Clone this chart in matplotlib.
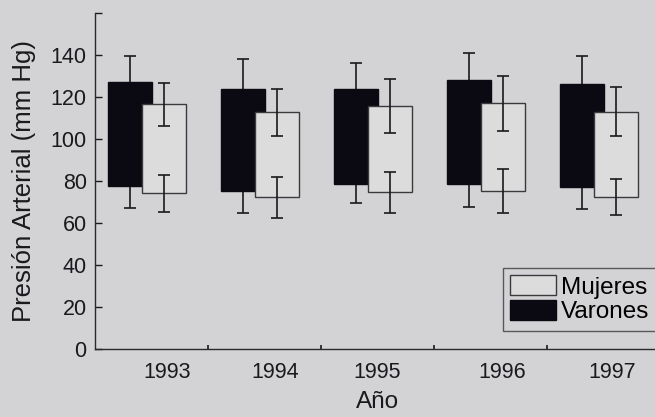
import numpy as np
import matplotlib
matplotlib.use('Agg')
import matplotlib.pyplot as plt
from matplotlib.patches import Patch

# ==========================================
# DATA
# ==========================================
years = ['1993', '1994', '1995', '1996', '1997']

# Varones (men): systolic / diastolic means and SDs
var_sys = [127, 124, 124, 128, 126]
var_sys_sd = [12.7, 13.9, 12.3, 12.9, 13.7]
var_dia = [77.6, 75.4, 78.6, 78.6, 77]
var_dia_sd = [10.6, 10.5, 8.9, 10.8, 10.5]

# Mujeres (women)
muj_sys = [116.5, 112.6, 115.7, 116.9, 113]
muj_sys_sd = [10.3, 11.2, 12.7, 12.9, 11.6]
muj_dia = [74.2, 72.2, 74.7, 75.1, 72.3]
muj_dia_sd = [8.8, 9.6, 9.8, 10.5, 8.5]

# ==========================================
# STYLE
# ==========================================
plt.rcParams['font.family'] = ['Liberation Sans', 'DejaVu Sans']
bg = '#d3d3d5'
ink = '#1a1a1e'

fig = plt.figure(figsize=(6.55, 4.17), dpi=100, facecolor=bg)
ax = fig.add_axes([0.145, 0.163, 0.855, 0.806], facecolor=bg)

x = np.arange(len(years))
w = 0.39
off_v, off_m = -0.19, 0.115
label_shift = [0.14, 0.10, 0.0, 0.11, 0.08]   # year labels sit a bit right in the scan

var_sys = np.array(var_sys); var_dia = np.array(var_dia)
muj_sys = np.array(muj_sys); muj_dia = np.array(muj_dia)

err_kw = dict(fmt='none', ecolor=ink, elinewidth=1.2, capsize=4.5, capthick=1.2)

# Varones boxes (black) with their error bars behind
ax.bar(x + off_v, var_sys - var_dia, bottom=var_dia, width=w,
       color='#0b0912', edgecolor='#0b0912', zorder=2)
ax.errorbar(x + off_v, var_sys, yerr=var_sys_sd, zorder=1, **err_kw)
ax.errorbar(x + off_v, var_dia, yerr=var_dia_sd, zorder=1, **err_kw)

# Mujeres boxes (white) drawn on top
ax.bar(x + off_m, muj_sys - muj_dia, bottom=muj_dia, width=w,
       color='#dcdcdd', edgecolor='#3a3a3e', linewidth=1.0, zorder=3)
ax.errorbar(x + off_m, muj_sys, yerr=muj_sys_sd, zorder=4, **err_kw)
ax.errorbar(x + off_m, muj_dia, yerr=muj_dia_sd, zorder=4, **err_kw)

# ==========================================
# AXES
# ==========================================
ax.set_xlim(-0.5, 4.46)
ax.set_ylim(0, 160)
ax.set_yticks(np.arange(0, 161, 20))
ax.set_yticklabels([str(v) for v in range(0, 141, 20)] + [''])
ax.set_xticks(x + np.array(label_shift))
ax.set_xticklabels(years)
ax.set_xticks(x[:-1] + 0.5, minor=True)

ax.tick_params(axis='y', direction='in', length=5, width=1, color=ink,
               labelsize=15.5, pad=6, labelcolor=ink)
ax.tick_params(axis='x', which='major', length=0, labelsize=15.5, pad=9,
               labelcolor=ink)
ax.tick_params(axis='x', which='minor', direction='in', length=3, width=1.2,
               color=ink)

for s in ['top', 'right']:
    ax.spines[s].set_visible(False)
for s in ['left', 'bottom']:
    ax.spines[s].set_color('#2a2a2e')
    ax.spines[s].set_linewidth(1.0)

ax.set_ylabel('Presión Arterial (mm Hg)', fontsize=18.5, color=ink)
ax.yaxis.set_label_coords(-0.105, 0.5)
ax.set_xlabel('Año', fontsize=17.5, color=ink, va='top')
ax.xaxis.set_label_coords(0.505, -0.125)

handles = [Patch(facecolor='#dcdcdd', edgecolor='#3a3a3e', label='Mujeres'),
           Patch(facecolor='#0b0912', edgecolor='#0b0912', label='Varones')]
leg = ax.legend(handles=handles, loc='upper left',
                bbox_to_anchor=(503 / 655, 1 - 268 / 417),
                bbox_transform=fig.transFigure, fontsize=17.5,
                frameon=True, fancybox=False, handlelength=1.9,
                handleheight=0.9, handletextpad=0.2, labelspacing=0.05,
                borderpad=0.3, borderaxespad=0)
leg.get_frame().set_edgecolor('#3a3a3e')
leg.get_frame().set_facecolor(bg)
leg.get_frame().set_linewidth(1.0)

fig.savefig('out.png', dpi=100, facecolor=bg)
